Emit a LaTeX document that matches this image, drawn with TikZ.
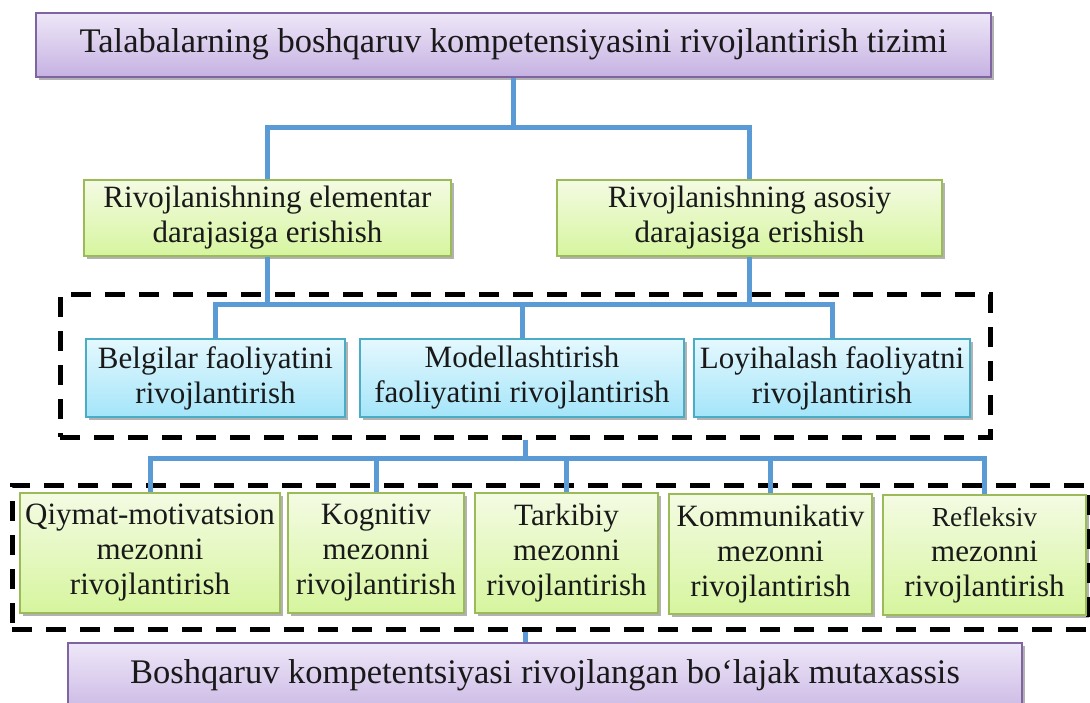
\documentclass[tikz,border=0pt]{standalone}
\usepackage{fontspec}
\setmainfont{Liberation Serif}
\usetikzlibrary{shadows}
\definecolor{linkblue}{HTML}{5B9BD5}
\definecolor{purpleedge}{HTML}{8064A2}
\definecolor{purpletop}{HTML}{EEE7F8}
\definecolor{purplebot}{HTML}{C6B2E2}
\definecolor{greenedge}{HTML}{9BBB59}
\definecolor{greentop}{HTML}{F4FBE3}
\definecolor{greenbot}{HTML}{D6F59E}
\definecolor{blueedge}{HTML}{4BACC6}
\definecolor{bluetop}{HTML}{E4F8FE}
\definecolor{bluebot}{HTML}{A4E5F9}
\begin{document}
\begin{tikzpicture}[x=1pt,y=-1pt,
                    box/.style={draw,line width=2pt,align=center,inner sep=2pt,text=black!90,
                      drop shadow={shadow xshift=2.5pt,shadow yshift=-3pt,opacity=.3,fill=black}},
                    purplebox/.style={box,draw=purpleedge,top color=purpletop,bottom color=purplebot,
                      font=\fontsize{34.5}{40}\selectfont},
                    greenbox/.style={box,draw=greenedge,top color=greentop,bottom color=greenbot,
                      font=\fontsize{31}{35}\selectfont},
                    bluebox/.style={box,draw=blueedge,top color=bluetop,bottom color=bluebot,
                      font=\fontsize{31}{35}\selectfont},
                    group/.style={draw,line width=5pt,dash pattern=on 20pt off 14pt},
                    link/.style={draw=linkblue,line width=5pt}]
                    \useasboundingbox (0,0) rectangle (1090,702);
                    \node[group,minimum width=930pt,minimum height=143pt](faol) at (525,365.5){};
                    \node[group,minimum width=1076pt,minimum height=144pt](mezon) at (550,557){};
                    \node[purplebox,minimum width=955pt,minimum height=64pt](tizim) at (513.5,44.5)
                      {Talabalarning boshqaruv kompetensiyasini rivojlantirish tizimi};
                    \node[greenbox,minimum width=367pt,minimum height=76pt](elementar) at (267.5,218)
                      {Rivojlanishning elementar\\darajasiga erishish};
                    \node[greenbox,minimum width=385pt,minimum height=76pt](asosiy) at (749.5,218)
                      {Rivojlanishning asosiy\\darajasiga erishish};
                    \node[bluebox,minimum width=259pt,minimum height=78pt](belgi) at (215.5,378)
                      {Belgilar faoliyatini\\rivojlantirish};
                    \node[bluebox,minimum width=324pt,minimum height=78pt](model) at (522,378)
                      {Modellashtirish\\faoliyatini rivojlantirish};
                    \node[bluebox,minimum width=276pt,minimum height=78pt](loyiha) at (832,378)
                      {Loyihalash faoliyatni\\rivojlantirish};
                    \node[greenbox,minimum width=260pt,minimum height=120pt](qiymat) at (150,553)
                      {Qiymat-motivatsion\\mezonni\\rivojlantirish};
                    \node[greenbox,minimum width=176pt,minimum height=120pt](kognitiv) at (376,553)
                      {Kognitiv\\mezonni\\rivojlantirish};
                    \node[greenbox,minimum width=183pt,minimum height=120pt](tarkibiy) at (566.5,553)
                      {Tarkibiy\\mezonni\\rivojlantirish};
                    \node[greenbox,minimum width=203pt,minimum height=120pt](kommun) at (770.5,554)
                      {Kommunikativ\\mezonni\\rivojlantirish};
                    \node[greenbox,minimum width=203pt,minimum height=120pt](refleks) at (984.5,555)
                      {{\fontsize{27.5}{35}\selectfont Refleksiv}\\mezonni\\rivojlantirish};
                    \node[purplebox,anchor=north,minimum width=954pt,inner sep=2pt,
                      text height=38pt,text depth=36pt](mutax) at (545,642)
                      {Boshqaruv kompetentsiyasi rivojlangan bo‘lajak mutaxassis};
                    \coordinate (j1) at (0,127);
                    \coordinate (j2) at (0,304);
                    \coordinate (j3) at (0,458);
                    \draw[link] (tizim.south) -- (tizim.south |- j1);
                    \draw[link] (elementar.north) |- (asosiy.north |- j1) -- (asosiy.north);
                    \draw[link] (elementar.south) -- (elementar.south |- j2);
                    \draw[link] (asosiy.south) -- (asosiy.south |- j2);
                    \draw[link] (belgi.north) |- (loyiha.north |- j2) -- (loyiha.north);
                    \draw[link] (model.north) -- (model.north |- j2);
                    \draw[link] (faol.south) -- (faol.south |- j3);
                    \draw[link] (qiymat.north) |- (refleks.north |- j3) -- (refleks.north);
                    \draw[link] (kognitiv.north) -- (kognitiv.north |- j3);
                    \draw[link] (tarkibiy.north) -- (tarkibiy.north |- j3);
                    \draw[link] (kommun.north) -- (kommun.north |- j3);
                    \draw[link] (mezon.south -| faol.south) -- (mutax.north -| faol.south);
                \end{tikzpicture}
\end{document}
